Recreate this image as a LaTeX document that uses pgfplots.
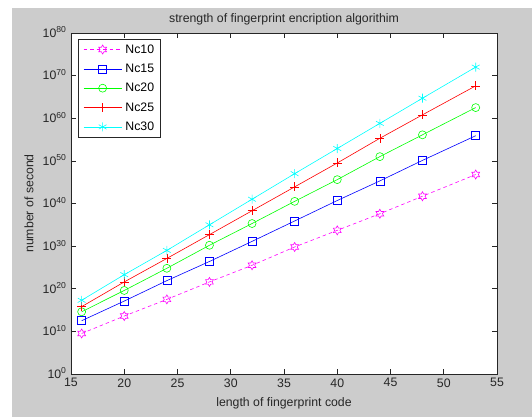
\documentclass[border=0pt]{standalone}
\usepackage{pgfplots}
\pgfplotsset{compat=1.18}
\usepackage{fontspec}
\setmainfont{Liberation Sans}
\definecolor{figgray}{RGB}{204,204,204}
\definecolor{axgray}{RGB}{38,38,38}
\definecolor{mmag}{RGB}{255,0,255}
\definecolor{mblue}{RGB}{0,0,255}
\definecolor{mgreen}{RGB}{0,255,0}
\definecolor{mred}{RGB}{255,0,0}
\definecolor{mcyan}{RGB}{0,255,255}
\newcommand\ff{\fontsize{12.3bp}{14bp}\selectfont}
\pgfdeclareplotmark{hexagram}{%
  \pgfpathmoveto{\pgfpointpolar{90}{\pgfplotmarksize}}%
  \pgfpathlineto{\pgfpointpolar{120}{0.577\pgfplotmarksize}}%
  \pgfpathlineto{\pgfpointpolar{150}{\pgfplotmarksize}}%
  \pgfpathlineto{\pgfpointpolar{180}{0.577\pgfplotmarksize}}%
  \pgfpathlineto{\pgfpointpolar{210}{\pgfplotmarksize}}%
  \pgfpathlineto{\pgfpointpolar{240}{0.577\pgfplotmarksize}}%
  \pgfpathlineto{\pgfpointpolar{270}{\pgfplotmarksize}}%
  \pgfpathlineto{\pgfpointpolar{300}{0.577\pgfplotmarksize}}%
  \pgfpathlineto{\pgfpointpolar{330}{\pgfplotmarksize}}%
  \pgfpathlineto{\pgfpointpolar{0}{0.577\pgfplotmarksize}}%
  \pgfpathlineto{\pgfpointpolar{30}{\pgfplotmarksize}}%
  \pgfpathlineto{\pgfpointpolar{60}{0.577\pgfplotmarksize}}%
  \pgfpathclose
  \pgfusepathqstroke
}
\begin{document}
\begin{tikzpicture}[x=1bp,y=1bp]
\fill[white] (0,0) rectangle (532,417);
\fill[figgray] (12,0) rectangle (532,409);
\begin{axis}[
  at={(71bp,43bp)}, anchor=south west,
  scale only axis, width=426bp, height=341bp,
  axis background/.style={fill=white},
  ymode=log, log basis y=10,
  xmin=15, xmax=55, ymin=1, ymax=1e80,
  xtick={15,20,...,55},
  ytick={1,1e10,1e20,1e30,1e40,1e50,1e60,1e70,1e80},
  yticklabels={10\textsuperscript{0},10\textsuperscript{10},10\textsuperscript{20},10\textsuperscript{30},10\textsuperscript{40},10\textsuperscript{50},10\textsuperscript{60},10\textsuperscript{70},10\textsuperscript{80}},
  yminorticks=false, xminorticks=false,
  tick align=inside, major tick length=5bp,
  axis line style={axgray, line width=0.7bp},
  every tick/.style={axgray, line width=0.7bp},
  tick label style={font=\ff, text=axgray},
  /pgf/number format/assume math mode=true,
  yticklabel style={anchor=base east, yshift=-4.3bp, xshift=-1bp},
  xticklabel style={yshift=-1bp},
  title={strength of fingerprint encription algorithim},
  title style={font=\ff, text=axgray, at={(rel axis cs:0.5,1.024)}, anchor=center},
  xlabel={length of fingerprint code},
  xlabel style={font=\ff, text=axgray, at={(rel axis cs:0.5,-0.085)}, anchor=center},
  ylabel={number of second},
  ylabel style={font=\ff, text=axgray, at={(rel axis cs:-0.0986,0.5)}, anchor=center, rotate=0},
  legend cell align=left,
  legend style={at={(rel axis cs:0.0164,0.982)}, anchor=north west, font=\ff,
    draw=axgray, line width=0.7bp, fill=white, row sep=6.3bp, inner xsep=5bp, inner ysep=3.5bp,
    nodes={inner sep=1.5bp}, column sep=2bp},
  legend image code/.code={\draw[#1, line width=0.6bp, mark repeat=2, mark phase=2] plot coordinates {(0bp,0bp) (19bp,0bp) (38bp,0bp)};},
]
\addplot[color=mmag, draw=mmag, line width=0.6bp, dash pattern=on 3.5bp off 3bp, mark=hexagram, mark size=4.5bp, mark options={solid, draw=mmag}] coordinates {
(16,3.2e9) (20,4e13) (24,3.2e17) (28,4e21) (32,3.2e25) (36,6.3e29) (40,5e33) (44,4e37) (48,5e41) (53,6.3e46)};
\addlegendentry{Nc10}
\addplot[color=mblue, draw=mblue, line width=0.6bp, mark=square, mark size=4bp, mark options={draw=mblue}] coordinates {
(16,3.2e12) (20,1.3e17) (24,8e21) (28,2.5e26) (32,1.3e31) (36,8e35) (40,5e40) (44,2e45) (48,1.3e50) (53,8e55)};
\addlegendentry{Nc15}
\addplot[color=mgreen, draw=mgreen, line width=0.6bp, mark=o, mark size=4bp, mark options={draw=mgreen}] coordinates {
(16,4e14) (20,4e19) (24,6.3e24) (28,1.6e30) (32,2e35) (36,3.2e40) (40,4e45) (44,1e51) (48,1.3e56) (53,3.2e62)};
\addlegendentry{Nc20}
\addplot[color=mred, draw=mred, line width=0.6bp, mark=+, mark size=4.5bp, mark options={draw=mred}] coordinates {
(16,6.3e15) (20,4e21) (24,1.3e27) (28,5e32) (32,2e38) (36,8e43) (40,3.2e49) (44,2e55) (48,6.3e60) (53,4e67)};
\addlegendentry{Nc25}
\addplot[color=mcyan, draw=mcyan, line width=0.6bp, mark=asterisk, mark size=4.5bp, mark options={draw=mcyan}] coordinates {
(16,2e17) (20,2e23) (24,1e29) (28,1e35) (32,1e41) (36,1e47) (40,8e52) (44,6.3e58) (48,5e64) (53,1e72)};
\addlegendentry{Nc30}
\end{axis}
\end{tikzpicture}
\end{document}
